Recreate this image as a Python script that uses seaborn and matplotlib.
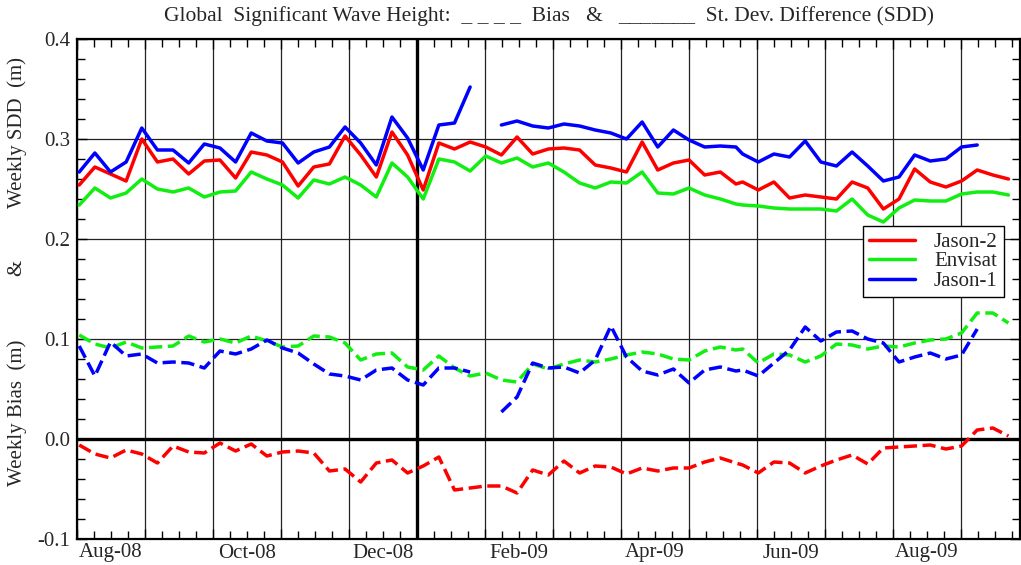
import numpy as np
import pandas as pd
import matplotlib
matplotlib.use("Agg")
import matplotlib.pyplot as plt
from matplotlib.lines import Line2D
from matplotlib.ticker import MultipleLocator, FuncFormatter
import seaborn as sns

# weekly samples (one irregular step in late May 2009)
dates = pd.DatetimeIndex(list(pd.date_range("2008-08-02", periods=43, freq="7D"))
                         + list(pd.date_range("2009-05-26", periods=18, freq="7D")))

jason2_sdd = [0.254, 0.272, 0.265, 0.258, 0.300, 0.277, 0.280, 0.265, 0.278, 0.279, 0.261,
              0.287, 0.284, 0.277, 0.253, 0.272, 0.275, 0.303, 0.284, 0.262, 0.307,
              0.284, 0.249, 0.296, 0.290, 0.297, 0.292, 0.284, 0.302, 0.285, 0.290,
              0.291, 0.289, 0.274, 0.271, 0.267, 0.297, 0.269, 0.276, 0.279, 0.264,
              0.267, 0.255, 0.257, 0.249, 0.257, 0.241, 0.244, 0.242, 0.240, 0.257,
              0.251, 0.230, 0.240, 0.270, 0.257, 0.252, 0.258, 0.269, 0.264, 0.260]
envisat_sdd = [0.234, 0.251, 0.241, 0.246, 0.260, 0.250, 0.247, 0.251, 0.242, 0.247, 0.248,
               0.267, 0.260, 0.254, 0.241, 0.259, 0.255, 0.262, 0.254, 0.242, 0.276,
               0.262, 0.240, 0.280, 0.277, 0.268, 0.283, 0.276, 0.281, 0.272, 0.276,
               0.267, 0.256, 0.251, 0.257, 0.256, 0.267, 0.246, 0.245, 0.251, 0.244,
               0.240, 0.235, 0.234, 0.233, 0.231, 0.230, 0.230, 0.230, 0.228, 0.240,
               0.224, 0.217, 0.231, 0.239, 0.238, 0.238, 0.245, 0.247, 0.247, 0.244]
jason1_sdd = [0.267, 0.286, 0.267, 0.277, 0.311, 0.289, 0.289, 0.276, 0.295, 0.291, 0.277,
              0.306, 0.298, 0.296, 0.276, 0.287, 0.292, 0.312, 0.296, 0.274, 0.322,
              0.301, 0.269, 0.314, 0.316, 0.352, np.nan, 0.314, 0.318, 0.313, 0.311,
              0.315, 0.313, 0.309, 0.306, 0.300, 0.317, 0.292, 0.309, 0.299, 0.292,
              0.293, 0.292, 0.285, 0.277, 0.285, 0.282, 0.298, 0.277, 0.273, 0.287,
              0.273, 0.258, 0.262, 0.284, 0.278, 0.280, 0.292, 0.294, np.nan, np.nan]

jason2_bias = [-0.006, -0.015, -0.019, -0.011, -0.015, -0.024, -0.007, -0.013, -0.014, -0.004, -0.012,
               -0.005, -0.017, -0.013, -0.012, -0.014, -0.032, -0.030, -0.043, -0.024, -0.021,
               -0.034, -0.027, -0.018, -0.051, -0.049, -0.047, -0.047, -0.054, -0.031, -0.036,
               -0.022, -0.034, -0.027, -0.028, -0.035, -0.029, -0.032, -0.029, -0.029, -0.023,
               -0.019, -0.024, -0.026, -0.034, -0.023, -0.024, -0.034, -0.027, -0.021, -0.016,
               -0.025, -0.009, -0.008, -0.007, -0.006, -0.010, -0.007, 0.009, 0.011, 0.003]
envisat_bias = [0.104, 0.095, 0.091, 0.097, 0.091, 0.092, 0.093, 0.103, 0.097, 0.100, 0.096,
                0.103, 0.098, 0.092, 0.093, 0.103, 0.102, 0.096, 0.079, 0.085, 0.086,
                0.072, 0.069, 0.083, 0.071, 0.063, 0.066, 0.059, 0.057, 0.075, 0.070,
                0.075, 0.079, 0.077, 0.080, 0.084, 0.087, 0.085, 0.080, 0.079, 0.088,
                0.092, 0.089, 0.090, 0.076, 0.085, 0.084, 0.077, 0.083, 0.095, 0.094,
                0.090, 0.093, 0.092, 0.096, 0.099, 0.100, 0.106, 0.126, 0.126, 0.116]
jason1_bias = [0.093, 0.063, 0.097, 0.083, 0.085, 0.076, 0.077, 0.076, 0.071, 0.088, 0.085,
               0.090, 0.099, 0.091, 0.086, 0.075, 0.065, 0.063, 0.059, 0.069, 0.071,
               0.059, 0.054, 0.071, 0.071, 0.067, np.nan, 0.027, 0.042, 0.076, 0.071,
               0.072, 0.066, 0.079, 0.113, 0.082, 0.068, 0.064, 0.070, 0.056, 0.069,
               0.072, 0.068, 0.069, 0.063, 0.076, 0.089, 0.112, 0.098, 0.107, 0.108,
               0.100, 0.096, 0.077, 0.082, 0.086, 0.080, 0.084, 0.110, np.nan, np.nan]

missions = ["Jason-2", "Envisat", "Jason-1"]
colors = {"Jason-2": "#ff0000", "Envisat": "#11ee11", "Jason-1": "#0000ff"}
month_labels = ["Aug-08", "Oct-08", "Dec-08", "Feb-09", "Apr-09", "Jun-09", "Aug-09"]

# months since 1 Aug 2008, equal-width months like the original axis
months = (dates - pd.Timestamp("2008-08-01")).days / 30.4375

series = {("Jason-2", "SDD"): jason2_sdd, ("Envisat", "SDD"): envisat_sdd,
          ("Jason-1", "SDD"): jason1_sdd, ("Jason-2", "Bias"): jason2_bias,
          ("Envisat", "Bias"): envisat_bias, ("Jason-1", "Bias"): jason1_bias}
frames = []
for (m, k), vals in series.items():
    v = np.array(vals, dtype=float)
    seg = np.cumsum(np.isnan(v))  # break the line at gaps
    frames.append(pd.DataFrame({"month": months, "value": v, "mission": m, "kind": k,
                                "seg": [f"{m}-{k}-{s}" for s in seg]}))
df = pd.concat(frames).dropna()

sns.set_style("ticks")
plt.rcParams["font.family"] = ["Liberation Serif", "DejaVu Serif"]
fs = 15

fig = plt.figure(figsize=(10.21, 5.65), dpi=100)
ax = fig.add_axes([77 / 1021, 26 / 565, 943 / 1021, 500 / 565])

sns.lineplot(data=df, x="month", y="value", hue="mission", style="kind", units="seg",
             estimator=None, sort=False, palette=colors, hue_order=missions,
             dashes={"SDD": "", "Bias": (3.8, 1.6)}, lw=2.5, legend=False, ax=ax, zorder=3)

ax.set_xlim(0, 13.87)
ax.set_ylim(-0.1, 0.4)
ax.xaxis.set_major_locator(MultipleLocator(1))
ax.xaxis.set_minor_locator(MultipleLocator(0.25))
ax.yaxis.set_major_locator(MultipleLocator(0.1))
ax.yaxis.set_minor_locator(MultipleLocator(0.02))
ax.yaxis.set_major_formatter(FuncFormatter(lambda v, p: f"{v:.1f}" if abs(v) > 1e-9 else "0.0"))
ax.tick_params(which="both", direction="in", top=True, right=True, color="black", width=1)
ax.tick_params(which="major", length=7, labelsize=fs, pad=5, labelbottom=False)
ax.tick_params(which="minor", length=6)
ax.grid(True, which="major", color="#222222", lw=0.9, zorder=1)
ax.axvline(5, color="black", lw=2.4, zorder=2)
ax.axhline(0, color="black", lw=2.4, zorder=2)
for s in ax.spines.values():
    s.set_linewidth(1.6)
    s.set_color("black")
ax.set_xlabel("")
ax.set_ylabel("")

for i, lab in enumerate(month_labels):
    ax.text(0.5 + 2 * i, -0.028, lab, transform=ax.get_xaxis_transform(),
            ha="center", va="center", fontsize=fs)

fig.text(17 / 1021, 1 - 133 / 565, "Weekly SDD  (m)", rotation=90, ha="center", va="center", fontsize=fs)
fig.text(17 / 1021, 1 - 268 / 565, "&", rotation=90, ha="center", va="center", fontsize=fs)
fig.text(17 / 1021, 1 - 413 / 565, "Weekly Bias  (m)", rotation=90, ha="center", va="center", fontsize=fs)
fig.text(549 / 1021, 1 - 16 / 565,
         "Global  Significant Wave Height:  _ _ _ _  Bias   &   _______  St. Dev. Difference (SDD)",
         ha="center", va="center", fontsize=15.5)

handles = [Line2D([], [], color=colors[m], lw=2.5) for m in missions]
leg = ax.legend(handles, missions, loc="upper right", bbox_to_anchor=(0.983, 0.626),
                borderaxespad=0, fancybox=False, framealpha=1, edgecolor="black",
                fontsize=fs, handlelength=2.2, handletextpad=0.9, labelspacing=0.0,
                borderpad=0.3)
leg.get_frame().set_linewidth(1.0)

fig.savefig("out.png", dpi=100)
